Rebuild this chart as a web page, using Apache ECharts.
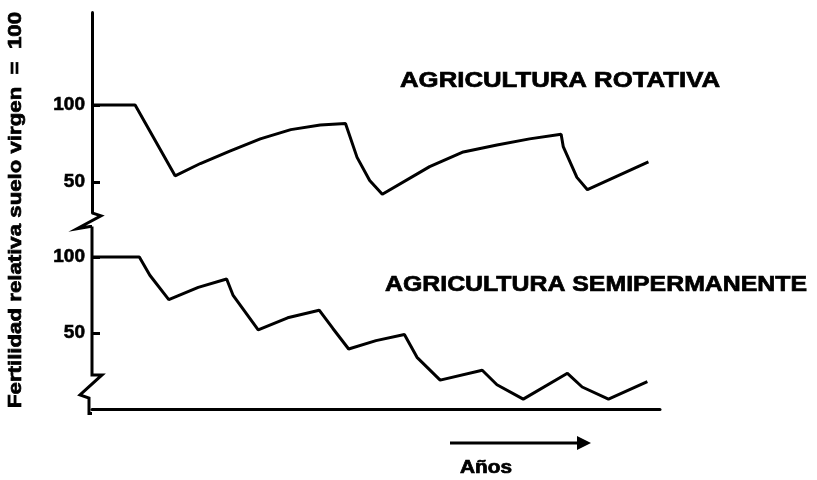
<!DOCTYPE html>
<html><head><meta charset="utf-8">
<script src="https://cdn.jsdelivr.net/npm/echarts@6/dist/echarts.min.js"></script>
<style>html,body{margin:0;padding:0;background:#fff}#c{width:817px;height:480px}</style>
</head><body><div id="c"></div>
<script>
// Relative soil fertility (virgin soil = 100) over years of cultivation
const rotativaYears = [0, 4.1, 7.9, 10.3, 13.1, 16.0, 18.9, 21.7, 24.1, 25.2, 26.4, 27.6, 32.1, 35.3, 38.5, 41.6, 44.6, 44.8, 46.1, 47.1, 52.9];
const rotativaFert  = [100, 100, 54, 62, 70, 78, 84, 87, 88, 66, 51, 42, 60, 69.5, 74, 78, 81, 73, 53, 45, 63];

const semiYears = [0, 4.5, 5.5, 7.3, 10.1, 12.8, 13.4, 15.8, 18.6, 21.6, 22.9, 24.4, 27.0, 29.7, 30.9, 33.1, 37.1, 38.5, 41.0, 45.2, 46.6, 49.1, 52.8];
const semiFert  = [100, 100, 88, 72, 80, 85.5, 75, 52, 60, 65, 53, 39.5, 45, 49, 34, 19, 25.5, 16, 6.5, 23.5, 14.5, 6.5, 18];

const yTickValues = [50, 100];
const titleRotativa = 'AGRICULTURA ROTATIVA';
const titleSemi = 'AGRICULTURA SEMIPERMANENTE';
const yAxisTitle = 'Fertilidad relativa suelo virgen  =  100';
const xAxisTitle = 'Años';

const FONT = '"Liberation Sans", Arial, sans-serif';
const INK = '#000';

function zip(xs, ys) { return xs.map((x, i) => [x, ys[i]]); }

const yAxisCommon = {
  type: 'value',
  splitLine: { show: false },
  axisTick: { show: true, inside: true, length: 8, lineStyle: { color: INK, width: 3 }, customValues: yTickValues },
  axisLabel: { color: INK, fontFamily: FONT, fontWeight: 'bold', fontSize: 19, margin: 7,
    textBorderColor: INK, textBorderWidth: 0.6, customValues: yTickValues }
};

const option = {
  animation: false,
  backgroundColor: '#fff',
  grid: [
    { left: 92, right: 157, top: 12.6, height: 200.2 },
    { left: 92, right: 157, top: 226.6, height: 187 }
  ],
  xAxis: [
    { gridIndex: 0, type: 'value', min: 0, max: 54, show: false },
    { gridIndex: 1, type: 'value', min: 0, max: 54,
      axisLine: { show: true, lineStyle: { color: INK, width: 3 } },
      axisTick: { show: false }, axisLabel: { show: false }, splitLine: { show: false } }
  ],
  yAxis: [
    Object.assign({ gridIndex: 0, min: 30, max: 160,
      axisLine: { show: true, lineStyle: { color: INK, width: 3 } } }, yAxisCommon),
    Object.assign({ gridIndex: 1, min: -3, max: 120,
      axisLine: { show: false } }, yAxisCommon)
  ],
  series: [
    { name: titleRotativa, type: 'line', xAxisIndex: 0, yAxisIndex: 0,
      data: zip(rotativaYears, rotativaFert), showSymbol: false,
      lineStyle: { color: INK, width: 3 } },
    { name: titleSemi, type: 'line', xAxisIndex: 1, yAxisIndex: 1,
      data: zip(semiYears, semiFert), showSymbol: false,
      lineStyle: { color: INK, width: 3 } }
  ]
};

const chart = echarts.init(document.getElementById('c'), null, { renderer: 'canvas' });
chart.setOption(option);

// Horizontal stretch so the wide lettering spans its intended width
const measureCtx = document.createElement('canvas').getContext('2d');
function stretch(text, font, targetWidth) {
  measureCtx.font = font;
  return targetWidth / measureCtx.measureText(text).width;
}

function pt(idx, x, y) { return chart.convertToPixel({ xAxisIndex: idx, yAxisIndex: idx }, [x, y]); }

const upperBottom = pt(0, 0, 30);
const lowerTop = pt(1, 0, 120);
const lowerBreak = pt(1, 0, 22.4);
const lowerBottom = pt(1, 0, -3);
const ax = upperBottom[0];

const lineStyle = { stroke: INK, lineWidth: 3, fill: null, lineJoin: 'miter' };

const titleFont = 'bold 22px ' + FONT;
const yTitleFont = 'bold 19px ' + FONT;
const xTitleFont = 'bold 18px ' + FONT;
const heavy = { fill: INK, stroke: INK, lineWidth: 0.7 };

chart.setOption({
  graphic: [
    // Axis break between the two panels
    { type: 'polyline', shape: { points: [
        [ax, upperBottom[1]], [ax + 9, upperBottom[1] + 3], [ax - 15, upperBottom[1] + 16],
        [ax - 2, lowerTop[1]], [ax, lowerTop[1]] ] }, style: lineStyle },
    // Lower vertical axis with its break above the time axis
    { type: 'polyline', shape: { points: [
        [ax, lowerTop[1]], [ax, lowerBreak[1]], [ax + 10, lowerBreak[1]],
        [ax - 12, lowerBreak[1] + 20], [ax - 3, lowerBreak[1] + 23],
        [ax - 3, lowerBottom[1]], [ax, lowerBottom[1]] ] }, style: lineStyle },
    // Panel titles
    { type: 'text', x: 400, y: 81, scaleX: stretch(titleRotativa, titleFont, 320),
      style: Object.assign({ text: titleRotativa, font: titleFont, align: 'left', verticalAlign: 'middle' }, heavy) },
    { type: 'text', x: 385, y: 285, scaleX: stretch(titleSemi, titleFont, 422),
      style: Object.assign({ text: titleSemi, font: titleFont, align: 'left', verticalAlign: 'middle' }, heavy) },
    // Vertical axis title
    { type: 'text', x: 16, y: 210, rotation: Math.PI / 2, scaleX: stretch(yAxisTitle, yTitleFont, 396),
      style: Object.assign({ text: yAxisTitle, font: yTitleFont, align: 'center', verticalAlign: 'middle' }, heavy) },
    // Time arrow
    { type: 'line', shape: { x1: 450, y1: 443, x2: 580, y2: 443 }, style: { stroke: INK, lineWidth: 3 } },
    { type: 'polygon', shape: { points: [[577, 436], [591, 443], [577, 450]] }, style: { fill: INK } },
    { type: 'text', x: 460, y: 468, scaleX: stretch(xAxisTitle, xTitleFont, 52),
      style: Object.assign({ text: xAxisTitle, font: xTitleFont, align: 'left', verticalAlign: 'middle' }, heavy) }
  ]
});
</script>
</body></html>
